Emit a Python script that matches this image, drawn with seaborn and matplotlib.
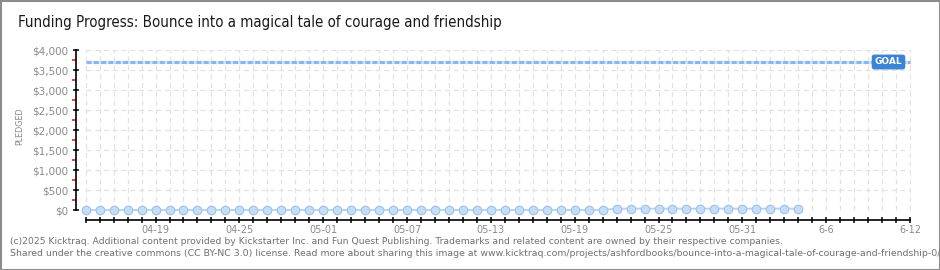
import matplotlib
matplotlib.use("Agg")
import matplotlib.pyplot as plt
import matplotlib.dates as mdates
from matplotlib.patches import Rectangle
from matplotlib.ticker import MultipleLocator, FixedLocator, FuncFormatter
import seaborn as sns
import pandas as pd
import numpy as np

# ---- data ----
title = "Funding Progress: Bounce into a magical tale of courage and friendship"
start_date = "2025-04-14"
pledged = [0] * 38 + [35] * 14          # daily pledged totals (USD), 04-14 .. 06-04
goal = 3700
tick_dates = ["2025-04-19", "2025-04-25", "2025-05-01", "2025-05-07", "2025-05-13",
              "2025-05-19", "2025-05-25", "2025-05-31", "2025-06-06", "2025-06-12"]
tick_labels = ["04-19", "04-25", "05-01", "05-07", "05-13",
               "05-19", "05-25", "05-31", "6-6", "6-12"]
x_end = "2025-06-12"
footer1 = ("(c)2025 Kicktraq. Additional content provided by Kickstarter Inc. and Fun Quest Publishing. "
           "Trademarks and related content are owned by their respective companies.")
footer2 = ("Shared under the creative commons (CC BY-NC 3.0) license. Read more about sharing this image at "
           "www.kicktraq.com/projects/ashfordbooks/bounce-into-a-magical-tale-of-courage-and-friendship-0/")

df = pd.DataFrame({"date": pd.date_range(start_date, periods=len(pledged), freq="D"),
                   "pledged": pledged})

sns.set_theme(style="white")
plt.rcParams["font.family"] = ["DejaVu Sans"]

W, H = 940, 270
fig = plt.figure(figsize=(W / 100, H / 100), dpi=100)
fig.patch.set_facecolor("white")

x0 = pd.Timestamp(start_date)
xe = pd.Timestamp(x_end)
n0 = mdates.date2num(x0)
ne = mdates.date2num(xe)
px_per_day = (910 - 85.7) / (ne - n0)
left_pad_days = (85.7 - 76) / px_per_day

ax_l, ax_r, ax_t, ax_b = 76, 911, 50, 220
ax = fig.add_axes([ax_l / W, 1 - ax_b / H, (ax_r - ax_l) / W, (ax_b - ax_t) / H])
ax.set_facecolor("white")

ymax = 4000
y_per_px = ymax / (210 - 50)

# grid
grid_kw = dict(color="#e2e2e2", linestyle=(0, (4, 3)), linewidth=0.9, zorder=0)
for v in np.arange(500, ymax + 1, 500):
    ax.plot([x0, xe], [v, v], **grid_kw)
for d in pd.date_range(x0, xe, freq="D"):
    ax.plot([d, d], [0, ymax], **grid_kw)
ax.grid(False)

# goal line
ax.plot([x0, xe], [goal, goal], color="#d3e4f7", linewidth=2.4, zorder=2, solid_capstyle="butt")
ax.plot([x0, xe], [goal, goal], color="#8ab6e9", linewidth=2.2, zorder=3,
        linestyle=(0, (1.6, 0.8)))
ax.text(mdates.num2date(ne - (910 - 888.5) / px_per_day), goal, "GOAL",
        color="white", fontsize=6.5, fontweight="bold", ha="center", va="center", zorder=5,
        bbox=dict(boxstyle="round,pad=0.25,rounding_size=0.2", facecolor="#3b84d5",
                  edgecolor="#3b84d5"))

# data
sns.lineplot(data=df, x="date", y="pledged", ax=ax, color="#b3d0f1", linewidth=1.3,
             marker="o", markersize=6.2, markerfacecolor="#c5ddf7",
             markeredgecolor="#9dc1ea", markeredgewidth=0.8, zorder=4, clip_on=False)
ax.set_xlabel("")
ax.set_ylabel("")

ax.set_ylim(-(220 - 210) * y_per_px, ymax)
ax.set_xlim(n0 - left_pad_days, ne + (ax_r - 910) / px_per_day)
ax.yaxis.set_major_locator(MultipleLocator(500))
ax.yaxis.set_minor_locator(FixedLocator(np.arange(250, ymax, 500)))
ax.set_xticks(mdates.date2num(pd.to_datetime(tick_dates)))
ax.set_xticklabels(tick_labels)
ax.xaxis.set_minor_locator(FixedLocator(np.arange(n0, ne + 0.5, 1)))

# spines
for s in ["top", "right"]:
    ax.spines[s].set_visible(False)
ax.spines["left"].set_bounds(0, ymax)
ax.spines["bottom"].set_bounds(n0, ne)
for s in ["left", "bottom"]:
    ax.spines[s].set_color("black")
    ax.spines[s].set_linewidth(1.2)

ax.yaxis.set_major_formatter(FuncFormatter(lambda v, p: f"${int(v):,}" if v >= 0 else ""))
ax.tick_params(axis="y", which="major", direction="inout", length=5, width=1.1,
               color="black", labelsize=7.5, labelcolor="#8a8a8a", pad=3, left=True)
ax.tick_params(axis="y", which="minor", direction="out", length=3, width=1.1,
               color="#e01010", left=True)
ax.tick_params(axis="x", which="both", direction="inout", length=5, width=1.1,
               color="black", labelsize=7, labelcolor="#8a8a8a", pad=1, bottom=True)

# text
fig.text(18 / W, 1 - 23 / H, title, fontsize=10.8, color="#1a1a1a", ha="left", va="center",
         family=["DejaVu Sans"], fontstretch="condensed")
fig.text(20 / W, 1 - 126 / H, "PLEDGED", rotation=90, fontsize=5.8, color="#888888",
         ha="center", va="center")
fig.text(10 / W, 1 - 242 / H, footer1, fontsize=6.7, color="#707070", ha="left", va="center")
fig.text(10 / W, 1 - 254 / H, footer2, fontsize=6.75, color="#707070", ha="left", va="center")

# border
fig.patches.append(Rectangle((0, 0), 1, 1, transform=fig.transFigure, fill=False,
                             edgecolor="#8c8c8c", linewidth=2.2))

fig.savefig("out.png", dpi=100, facecolor="white")
